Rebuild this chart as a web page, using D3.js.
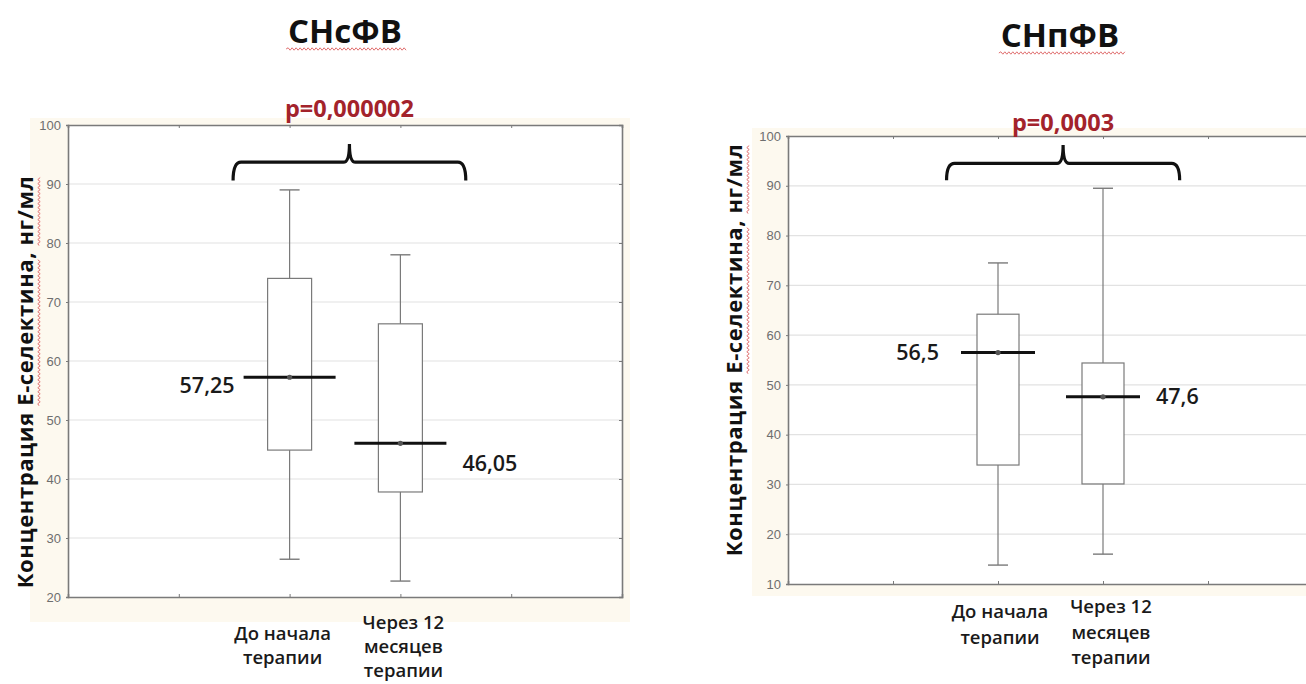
<!DOCTYPE html>
<html>
<head>
<meta charset="utf-8">
<script src="https://cdn.jsdelivr.net/npm/d3@7"></script>
<style>
  body { margin: 0; background: #fff; }
  svg { display: block; }
</style>
</head>
<body>
<div id="chart"></div>
<script>
// chart data
var groupLines = [["До начала", "терапии"], ["Через 12", "месяцев", "терапии"]];
var panelTitles = ["СНсФВ", "СНпФВ"];
var pValues = ["p=0,000002", "p=0,0003"];
var yLabel = "Концентрация Е-селектина, нг/мл";
var xTicks = [1, 2, 3, 4];
var yTicksA = [20, 30, 40, 50, 60, 70, 80, 90, 100];
var yTicksB = [10, 20, 30, 40, 50, 60, 70, 80, 90, 100];

// СНсФВ
var minA = [26.4, 22.7];
var q1A = [44.9, 37.8];
var medA = [57.25, 46.05];
var q3A = [74, 66.3];
var maxA = [89, 78];
var medLabelsA = ["57,25", "46,05"];

// СНпФВ
var minB = [13.8, 16];
var q1B = [33.9, 30.1];
var medB = [56.5, 47.6];
var q3B = [64.2, 54.4];
var maxB = [74.5, 89.5];
var medLabelsB = ["56,5", "47,6"];

var svg = d3.select("#chart").append("svg")
  .attr("width", 1306).attr("height", 684);

var font = "'Open Sans', 'Noto Sans', sans-serif";

// panel layout
var panels = [
  { x0: 68, x1: 622, y0: 125, y1: 597, yTicks: yTicksA,
    min: minA, q1: q1A, med: medA, q3: q3A, max: maxA, labels: medLabelsA,
    title: panelTitles[0], titleX: 345, titleY: 43, p: pValues[0], pY: 117,
    boxW: 44, medHalf: 46, labelDy: [8, 20], labelGap: [9, 16],
    bracket: { a: 1.49, m: 2.54, b: 3.59, top: 93.7, hook: 90.6, peak: 96.8 },
    ylabX: 33, ylabY: 382, bg: [30, 118, 600, 504],
    xlabY: [634, 623], xlabDx: [-7, 3], xlabStep: 24 },
  { x0: 788, x1: 1313, y0: 136, y1: 584, yTicks: yTicksB,
    min: minB, q1: q1B, med: medB, q3: q3B, max: maxB, labels: medLabelsB,
    title: panelTitles[1], titleX: 1060, titleY: 47, p: pValues[1], pY: 131,
    boxW: 42, medHalf: 37, labelDy: [0, 0], labelGap: [22, 16],
    bracket: { a: 1.51, m: 2.62, b: 3.73, top: 94.5, hook: 91.1, peak: 98.2 },
    ylabX: 742, ylabY: 350, bg: [752, 128, 560, 468],
    xlabY: [612, 607], xlabDx: [2, 8], xlabStep: 25.5 }
];

function wavy(x0, x1, y) {
  var d = "M" + x0 + "," + y;
  var up = true;
  for (var x = x0 + 2; x <= x1; x += 2) {
    d += " L" + x + "," + (y + (up ? -1.2 : 1.2));
    up = !up;
  }
  return d;
}

panels.forEach(function(P) {
  var width = P.x1 - P.x0, height = P.y1 - P.y0;
  var lo = P.yTicks[0], hi = P.yTicks[P.yTicks.length - 1];

  // faint cream backdrop
  svg.append("rect")
    .attr("x", P.bg[0]).attr("y", P.bg[1])
    .attr("width", P.bg[2]).attr("height", P.bg[3])
    .attr("fill", "#fdf9ef");

  var g = svg.append("g")
    .attr("transform", "translate(" + P.x0 + "," + P.y0 + ")");

  var x = d3.scaleLinear().domain([0, 5]).range([0, width]);
  var y = d3.scaleLinear().domain([lo, hi]).range([height, 0]);

  g.append("rect").attr("width", width).attr("height", height).attr("fill", "#fff");

  // grid lines
  g.append("g").selectAll("line")
    .data(P.yTicks.slice(1, -1))
    .enter().append("line")
      .attr("x1", 0).attr("x2", width)
      .attr("y1", function(d) { return y(d); })
      .attr("y2", function(d) { return y(d); })
      .attr("stroke", "#e2e2e2").attr("stroke-width", 1.2);

  // axes
  var left = g.append("g").call(d3.axisLeft(y).tickValues(P.yTicks).tickSize(2).tickPadding(5));
  var right = g.append("g").attr("transform", "translate(" + width + ",0)")
    .call(d3.axisRight(y).tickValues(P.yTicks).tickSize(-3).tickFormat(""));
  var top = g.append("g").call(d3.axisTop(x).tickValues(xTicks).tickSize(-3).tickFormat(""));
  var bottom = g.append("g").attr("transform", "translate(0," + height + ")")
    .call(d3.axisBottom(x).tickValues(xTicks).tickSize(-3).tickFormat(""));
  [left, right, top, bottom].forEach(function(a) {
    a.select(".domain").attr("stroke", "#7a7a7a").attr("stroke-width", 1.6);
    a.selectAll(".tick line").attr("stroke", "#7a7a7a");
  });
  left.selectAll("text")
    .attr("font-family", "'Liberation Sans', Arial, sans-serif")
    .attr("font-size", 13).attr("fill", "#6e6e6e");

  // boxes
  var idx = [0, 1];
  var bx = function(i) { return x(i + 2); };
  var box = g.append("g").selectAll("g").data(idx).enter().append("g");
  box.append("line")
    .attr("x1", bx).attr("x2", bx)
    .attr("y1", function(i) { return y(P.max[i]); })
    .attr("y2", function(i) { return y(P.min[i]); })
    .attr("stroke", "#7a7a7a").attr("stroke-width", 1.2);
  [P.max, P.min].forEach(function(arr) {
    box.append("line")
      .attr("x1", function(i) { return bx(i) - 10; })
      .attr("x2", function(i) { return bx(i) + 10; })
      .attr("y1", function(i) { return y(arr[i]); })
      .attr("y2", function(i) { return y(arr[i]); })
      .attr("stroke", "#7a7a7a").attr("stroke-width", 1.4);
  });
  box.append("rect")
    .attr("x", function(i) { return bx(i) - P.boxW / 2; })
    .attr("width", P.boxW)
    .attr("y", function(i) { return y(P.q3[i]); })
    .attr("height", function(i) { return y(P.q1[i]) - y(P.q3[i]); })
    .attr("fill", "#fff").attr("stroke", "#7a7a7a").attr("stroke-width", 1.2);
  box.append("line")
    .attr("x1", function(i) { return bx(i) - P.medHalf; })
    .attr("x2", function(i) { return bx(i) + P.medHalf; })
    .attr("y1", function(i) { return y(P.med[i]); })
    .attr("y2", function(i) { return y(P.med[i]); })
    .attr("stroke", "#111").attr("stroke-width", 3);
  box.append("circle")
    .attr("cx", bx).attr("cy", function(i) { return y(P.med[i]); })
    .attr("r", 2.6).attr("fill", "#555");

  // median labels
  box.append("text")
    .attr("x", function(i) {
      return i === 0 ? bx(i) - P.medHalf - P.labelGap[i] : bx(i) + P.medHalf + P.labelGap[i];
    })
    .attr("y", function(i) { return y(P.med[i]) + P.labelDy[i]; })
    .attr("dy", "0.35em")
    .attr("text-anchor", function(i) { return i === 0 ? "end" : "start"; })
    .attr("font-family", font).attr("font-weight", 600).attr("font-size", 21.5)
    .attr("fill", "#1a1a1a")
    .text(function(i) { return P.labels[i]; });

  // bracket
  var B = P.bracket;
  var ax = x(B.a), mx = x(B.m), bxx = x(B.b);
  var yt = y(B.top), yh = y(B.hook), yp = y(B.peak);
  g.append("path")
    .attr("d", "M" + ax + "," + yh + " Q" + ax + "," + yt + " " + (ax + 8) + "," + yt +
      " L" + (mx - 6) + "," + yt + " Q" + mx + "," + yt + " " + mx + "," + yp +
      " Q" + mx + "," + yt + " " + (mx + 6) + "," + yt +
      " L" + (bxx - 8) + "," + yt + " Q" + bxx + "," + yt + " " + bxx + "," + yh)
    .attr("fill", "none").attr("stroke", "#111").attr("stroke-width", 3.2);

  svg.append("text")
    .attr("x", P.x0 + mx).attr("y", P.pY)
    .attr("text-anchor", "middle")
    .attr("font-family", font).attr("font-weight", 700).attr("font-size", 23.5)
    .attr("fill", "#a3232b")
    .text(P.p);

  // x category labels
  idx.forEach(function(i) {
    var t = svg.append("text")
      .attr("text-anchor", "middle")
      .attr("font-family", font).attr("font-weight", 600).attr("font-size", 18.5)
      .attr("fill", "#1a1a1a");
    groupLines[i].forEach(function(line, k) {
      t.append("tspan")
        .attr("x", P.x0 + bx(i) + P.xlabDx[i]).attr("y", P.xlabY[i] + k * P.xlabStep)
        .attr("dy", "0.35em")
        .text(line);
    });
  });

  // title
  var title = svg.append("text")
    .attr("x", P.titleX).attr("y", P.titleY)
    .attr("text-anchor", "middle")
    .attr("font-family", font).attr("font-weight", 700).attr("font-size", 33)
    .attr("fill", "#111")
    .text(P.title);
  var tw = title.node().getComputedTextLength();
  svg.append("path")
    .attr("d", wavy(P.titleX - tw / 2 - 2, P.titleX + tw / 2 + 6, P.titleY + 6))
    .attr("fill", "none").attr("stroke", "#e07070").attr("stroke-width", 1);

  // y label
  var yl = svg.append("g")
    .attr("transform", "translate(" + P.ylabX + "," + P.ylabY + ") rotate(-90)");
  var ytxt = yl.append("text")
    .attr("text-anchor", "middle")
    .attr("font-family", font).attr("font-weight", 700).attr("font-size", 22)
    .attr("letter-spacing", 0.6)
    .attr("fill", "#111")
    .text(yLabel);
  var node = ytxt.node();
  var full = node.getComputedTextLength();
  ["Е-селектина", "нг/мл"].forEach(function(word) {
    var k = yLabel.indexOf(word);
    var s = node.getSubStringLength(0, k) - full / 2;
    var w = node.getSubStringLength(k, word.length);
    yl.append("path")
      .attr("d", wavy(s, s + w, 6))
      .attr("fill", "none").attr("stroke", "#e07070").attr("stroke-width", 1);
  });
});
</script>
</body>
</html>
